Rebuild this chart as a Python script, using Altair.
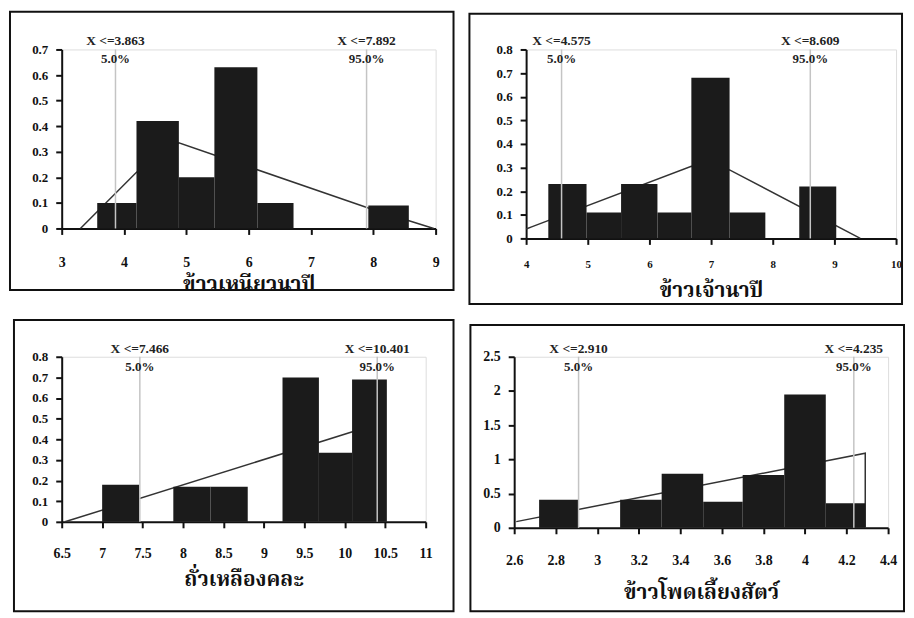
import altair as alt
import pandas as pd

# ---------------- data ----------------
p1_title = "ข้าวเหนียวนาปี"
p1_bin_start = [3.57, 4.20, 4.88, 5.45, 6.14, 7.92]
p1_bin_end = [4.20, 4.88, 5.45, 6.14, 6.72, 8.57]
p1_height = [0.10, 0.42, 0.20, 0.63, 0.10, 0.09]
p1_line_x = [3.30, 4.20, 4.88, 7.92, 8.97]
p1_line_y = [0.00, 0.22, 0.335, 0.08, 0.00]
p1_cut = [3.863, 7.892]
p1_cut_label = ["X <=3.863", "X <=7.892"]
p1_pct = ["5.0%", "95.0%"]
p1_xticks = [3, 4, 5, 6, 7, 8, 9]
p1_yticks = [0, 0.1, 0.2, 0.3, 0.4, 0.5, 0.6, 0.7]

p2_title = "ข้าวเจ้านาปี"
p2_bin_start = [4.36, 4.98, 5.54, 6.13, 6.68, 7.30, 8.43]
p2_bin_end = [4.98, 5.54, 6.13, 6.68, 7.30, 7.88, 9.03]
p2_height = [0.23, 0.11, 0.23, 0.11, 0.68, 0.11, 0.22]
p2_line_x = [4.00, 4.10, 6.68, 7.30, 9.42]
p2_line_y = [0.04, 0.05, 0.305, 0.29, 0.00]
p2_cut = [4.575, 8.609]
p2_cut_label = ["X <=4.575", "X <=8.609"]
p2_pct = ["5.0%", "95.0%"]
p2_xticks = [4, 5, 6, 7, 8, 9, 10]
p2_yticks = [0, 0.1, 0.2, 0.3, 0.4, 0.5, 0.6, 0.7, 0.8]

p3_title = "ถั่วเหลืองคละ"
p3_bin_start = [7.00, 7.88, 8.34, 9.23, 9.68, 10.09]
p3_bin_end = [7.46, 8.34, 8.80, 9.68, 10.09, 10.52]
p3_height = [0.18, 0.17, 0.17, 0.70, 0.335, 0.69]
p3_line_x = [6.54, 10.45]
p3_line_y = [0.00, 0.48]
p3_cut = [7.466, 10.401]
p3_cut_label = ["X <=7.466", "X <=10.401"]
p3_pct = ["5.0%", "95.0%"]
p3_xticks = [6.5, 7, 7.5, 8, 8.5, 9, 9.5, 10, 10.5, 11]
p3_yticks = [0, 0.1, 0.2, 0.3, 0.4, 0.5, 0.6, 0.7, 0.8]

p4_title = "ข้าวโพดเลี้ยงสัตว์"
p4_bin_start = [2.72, 3.11, 3.31, 3.51, 3.70, 3.90, 4.10]
p4_bin_end = [2.91, 3.31, 3.51, 3.70, 3.90, 4.10, 4.29]
p4_height = [0.41, 0.41, 0.79, 0.38, 0.77, 1.95, 0.36]
p4_line_x = [2.61, 4.29, 4.29]
p4_line_y = [0.09, 1.09, 0.00]
p4_cut = [2.910, 4.235]
p4_cut_label = ["X <=2.910", "X <=4.235"]
p4_pct = ["5.0%", "95.0%"]
p4_xticks = [2.6, 2.8, 3, 3.2, 3.4, 3.6, 3.8, 4, 4.2, 4.4]
p4_yticks = [0, 0.5, 1, 1.5, 2, 2.5]

SERIF = "Liberation Serif"
THAI = "Noto Serif Thai, Noto Sans Thai, Loma, Garuda, Tlwg Typo, DejaVu Sans, sans-serif"
LABEL_EXPR = "datum.value + ''"


def panel(title, bs, be, hh, lx, ly, cut, cut_lab, pct, xticks, yticks,
          W, H, frame, xlab_size, ylab_size, xpad, title_pad):
    xdom = [xticks[0], xticks[-1]]
    ydom = [yticks[0], yticks[-1]]
    xs = alt.Scale(domain=xdom, nice=False, zero=False)
    ys = alt.Scale(domain=ydom, nice=False, zero=False)

    xa = alt.Axis(values=xticks, labelExpr=LABEL_EXPR, title=title,
                  labelFont=SERIF, labelFontWeight="bold",
                  labelFontSize=xlab_size, labelColor="#111",
                  labelPadding=xpad, tickSize=6, tickWidth=2,
                  tickColor="#111", domainColor="#111",
                  domainWidth=2, grid=False, labelOverlap=False,
                  titleFont=THAI, titleFontSize=21,
                  titleFontWeight="bold", titleColor="#111",
                  titlePadding=title_pad, labelFlush=False)
    ya = alt.Axis(values=yticks, labelExpr=LABEL_EXPR, title=None,
                  labelFont=SERIF, labelFontWeight="bold",
                  labelFontSize=ylab_size, labelColor="#111",
                  labelPadding=8, tickSize=6, tickWidth=2,
                  tickColor="#111", domainColor="#111",
                  domainWidth=2, grid=False, labelOverlap=False,
                  labelFlush=False)

    bars_df = pd.DataFrame({"s": bs, "e": be, "h": hh, "z": [0] * len(hh)})
    line_df = pd.DataFrame({"x": lx, "y": ly, "o": list(range(len(lx)))})
    cut_df = pd.DataFrame({"c": cut, "lab": cut_lab, "pct": pct,
                           "top": [ydom[1]] * 2, "z": [0] * 2})

    frame_df = pd.DataFrame({"k": [0]})
    l, r, t, b = frame
    frame_mark = alt.Chart(frame_df).mark_rect(
        filled=False, stroke="#111", strokeWidth=2
    ).encode(
        x=alt.value(-l), x2=alt.value(W + r),
        y=alt.value(-t), y2=alt.value(H + b),
    )

    bars = alt.Chart(bars_df).mark_rect(color="#1b1b1b").encode(
        x=alt.X("s:Q", scale=xs, axis=xa),
        x2="e:Q",
        y=alt.Y("h:Q", scale=ys, axis=ya),
        y2="z:Q",
    )

    line = alt.Chart(line_df).mark_line(color="#333", strokeWidth=1.5).encode(
        x=alt.X("x:Q", scale=xs, axis=xa), y=alt.Y("y:Q", scale=ys, axis=ya),
        order="o:Q"
    )

    rules = alt.Chart(cut_df).mark_rule(color="#c4c4c4", strokeWidth=1.5).encode(
        x=alt.X("c:Q", scale=xs, axis=xa), y=alt.Y("top:Q", scale=ys, axis=ya),
        y2="z:Q"
    )

    lab1 = alt.Chart(cut_df).mark_text(
        font=SERIF, fontSize=13.5, fontWeight="bold", baseline="bottom",
        dy=-1, color="#222"
    ).encode(x=alt.X("c:Q", scale=xs, axis=xa),
             y=alt.Y("top:Q", scale=ys, axis=ya), text="lab:N")

    lab2 = alt.Chart(cut_df).mark_text(
        font=SERIF, fontSize=13, fontWeight="bold", baseline="top",
        dy=4, color="#222"
    ).encode(x=alt.X("c:Q", scale=xs, axis=xa),
             y=alt.Y("top:Q", scale=ys, axis=ya), text="pct:N")

    return alt.layer(frame_mark, line, bars, rules, lab1, lab2).properties(
        width=W, height=H
    )


c1 = panel(p1_title, p1_bin_start, p1_bin_end, p1_height, p1_line_x, p1_line_y,
           p1_cut, p1_cut_label, p1_pct, p1_xticks, p1_yticks,
           W=376, H=180, frame=(52, 18, 38, 62), xlab_size=14, ylab_size=13,
           xpad=21, title_pad=4)
c2 = panel(p2_title, p2_bin_start, p2_bin_end, p2_height, p2_line_x, p2_line_y,
           p2_cut, p2_cut_label, p2_pct, p2_xticks, p2_yticks,
           W=372, H=190, frame=(57, 6, 36, 66), xlab_size=11, ylab_size=13,
           xpad=14, title_pad=10)
c3 = panel(p3_title, p3_bin_start, p3_bin_end, p3_height, p3_line_x, p3_line_y,
           p3_cut, p3_cut_label, p3_pct, p3_xticks, p3_yticks,
           W=366, H=166, frame=(48, 28, 37, 90), xlab_size=14, ylab_size=13,
           xpad=19, title_pad=8)
c4 = panel(p4_title, p4_bin_start, p4_bin_end, p4_height, p4_line_x, p4_line_y,
           p4_cut, p4_cut_label, p4_pct, p4_xticks, p4_yticks,
           W=376, H=172, frame=(44, 16, 32, 84), xlab_size=14, ylab_size=14,
           xpad=20, title_pad=14)

chart = alt.vconcat(
    alt.hconcat(c1, c2, spacing=12),
    alt.hconcat(c3, c4, spacing=13),
    spacing=12,
).properties(
    padding={"left": 0, "top": 0, "right": 0, "bottom": 0}
).configure_view(
    stroke="#666", strokeWidth=1
).configure(background="white")

chart.save("out.html", embed_options={"renderer": "svg", "actions": False})
